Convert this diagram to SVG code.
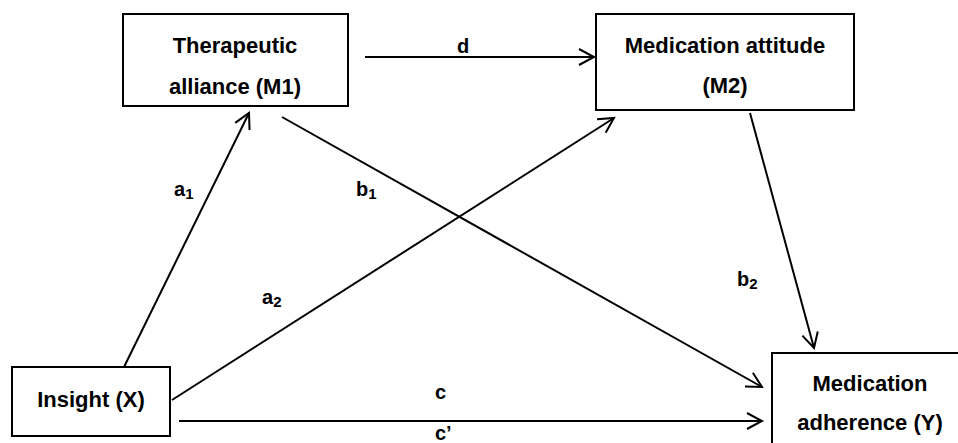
<svg xmlns="http://www.w3.org/2000/svg" width="958" height="443" viewBox="0 0 958 443">
<style>
.box{fill:#fff;stroke:#000;stroke-width:2}
.lbl{font-family:"Liberation Sans",Arial,sans-serif;font-weight:bold;font-size:22px;fill:#000;text-anchor:middle}
.pl{font-family:"Liberation Sans",Arial,sans-serif;font-weight:bold;font-size:20px;fill:#000}
.sub{font-size:15px}
.edge{stroke:#000;stroke-width:2;fill:none;marker-end:url(#arr)}
</style>
<defs>
<marker id="arr" markerUnits="userSpaceOnUse" markerWidth="20" markerHeight="20" viewBox="0 0 20 20" refX="17" refY="10" orient="auto">
<path d="M2,2 L17,10 L2,18" fill="none" stroke="#000" stroke-width="2"/>
</marker>
</defs>
<g id="connectors">
<line class="edge" x1="365" y1="57" x2="594" y2="57"/>
<line class="edge" x1="124" y1="367" x2="249" y2="113"/>
<line class="edge" x1="282" y1="117" x2="762" y2="387"/>
<line class="edge" x1="172" y1="400" x2="614" y2="118"/>
<line class="edge" x1="750" y1="113" x2="814" y2="348"/>
<line class="edge" x1="179" y1="421" x2="762" y2="421"/>
</g>
<g id="labels">
<text class="pl" x="463" y="53" text-anchor="middle">d</text>
<text class="pl" x="174" y="196">a<tspan class="sub" dy="3">1</tspan></text>
<text class="pl" x="356" y="196">b<tspan class="sub" dy="3">1</tspan></text>
<text class="pl" x="262" y="304">a<tspan class="sub" dy="3">2</tspan></text>
<text class="pl" x="737" y="286">b<tspan class="sub" dy="3">2</tspan></text>
<text class="pl" x="435" y="399">c</text>
<text class="pl" x="435" y="440">c’</text>
</g>
<g id="m1">
<rect class="box" x="123" y="14" width="225" height="92"/>
<text class="lbl" x="235" y="53">Therapeutic</text>
<text class="lbl" x="235" y="94">alliance (M1)</text>
</g>
<g id="m2">
<rect class="box" x="596" y="14" width="258" height="96"/>
<text class="lbl" x="725" y="53">Medication attitude</text>
<text class="lbl" x="725" y="93">(M2)</text>
</g>
<g id="x">
<rect class="box" x="12" y="367" width="158" height="69"/>
<text class="lbl" x="91" y="407">Insight (X)</text>
</g>
<g id="y">
<rect class="box" x="772" y="353" width="200" height="100"/>
<text class="lbl" x="870" y="391">Medication</text>
<text class="lbl" x="870" y="430">adherence (Y)</text>
</g>
</svg>
